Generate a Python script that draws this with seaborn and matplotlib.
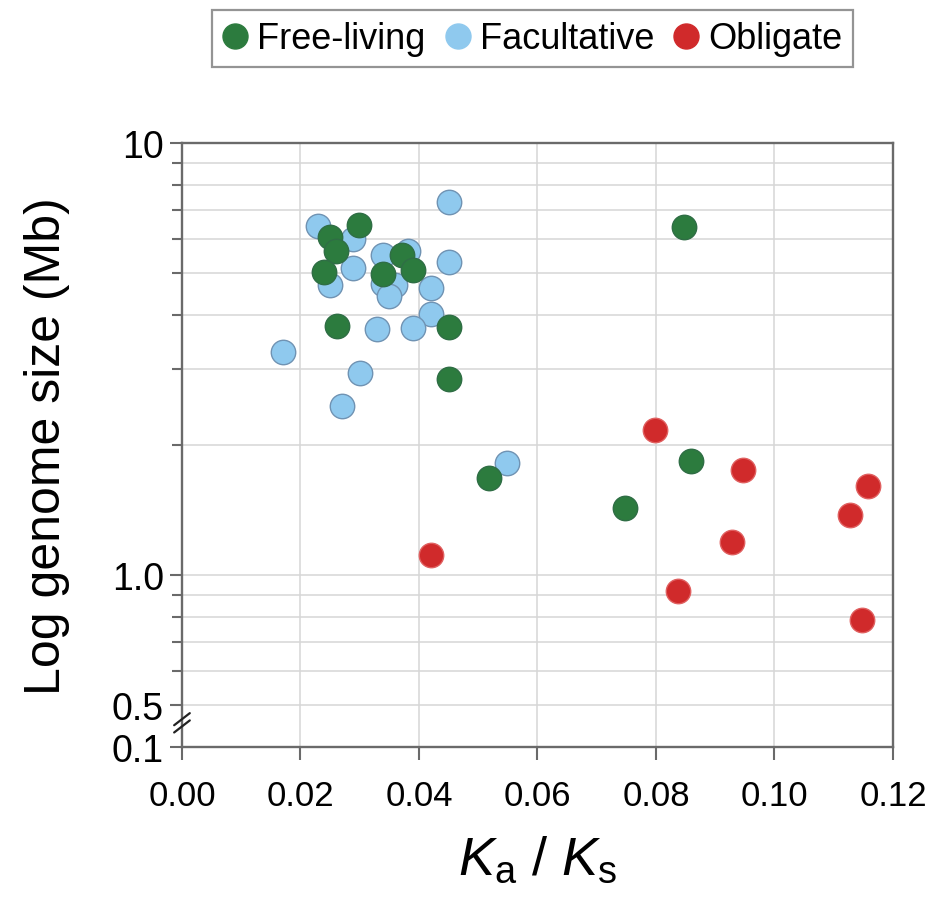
import numpy as np
import pandas as pd
import seaborn as sns
import matplotlib.pyplot as plt
from matplotlib.lines import Line2D
from matplotlib.ticker import FixedLocator, FixedFormatter, NullFormatter

# Ka/Ks vs genome size
free_kaks = [0.0250, 0.0260, 0.0299, 0.0240, 0.0340, 0.0371, 0.0390, 0.0261,
             0.0450, 0.0450, 0.0848, 0.0519, 0.0748, 0.0859]
free_size = [6.05, 5.63, 6.46, 5.04, 4.98, 5.50, 5.09, 3.78,
             3.76, 2.85, 6.38, 1.68, 1.43, 1.84]

fac_kaks = [0.0230, 0.0288, 0.0289, 0.0250, 0.0339, 0.0382, 0.0339, 0.0360,
            0.0350, 0.0420, 0.0420, 0.0329, 0.0390, 0.0450, 0.0450, 0.0171,
            0.0300, 0.0270, 0.0549]
fac_size = [6.44, 6.00, 5.14, 4.70, 5.50, 5.63, 4.71, 4.70,
            4.43, 4.61, 4.03, 3.72, 3.73, 7.29, 5.31, 3.28,
            2.94, 2.46, 1.82]

obl_kaks = [0.0420, 0.0799, 0.0947, 0.1158, 0.1127, 0.0928, 0.0838, 0.1148]
obl_size = [1.11, 2.17, 1.75, 1.61, 1.38, 1.19, 0.918, 0.785]

groups = ['Free-living', 'Facultative', 'Obligate']
colors = {'Free-living': '#2c7b3e', 'Facultative': '#8fc9ee', 'Obligate': '#d02a2b'}
edges = {'Free-living': '#2f6e45', 'Facultative': '#7093b3', 'Obligate': '#e06060'}

xticks = [0.00, 0.02, 0.04, 0.06, 0.08, 0.10, 0.12]
xticklabels = ['0.00', '0.02', '0.04', '0.06', '0.08', '0.10', '0.12']
# bottom of axis (0.4) is labelled 0.1 because of the axis break
yticks = [0.4, 0.5, 1.0, 10.0]
yticklabels = ['0.1', '0.5', '1.0', '10']
yminor = [0.6, 0.7, 0.8, 0.9, 2, 3, 4, 5, 6, 7, 8, 9]

df = pd.concat([
    pd.DataFrame({'kaks': free_kaks, 'size': free_size, 'life': 'Free-living'}),
    pd.DataFrame({'kaks': fac_kaks, 'size': fac_size, 'life': 'Facultative'}),
    pd.DataFrame({'kaks': obl_kaks, 'size': obl_size, 'life': 'Obligate'}),
])

sns.set_style('white')
plt.rcParams['font.family'] = ['Liberation Sans', 'DejaVu Sans']
plt.rcParams['text.color'] = 'black'
plt.rcParams['axes.labelcolor'] = 'black'
plt.rcParams['mathtext.fontset'] = 'custom'
plt.rcParams['mathtext.rm'] = 'Liberation Sans'
plt.rcParams['mathtext.it'] = 'Liberation Sans:italic'

fig = plt.figure(figsize=(9.38, 9.04), dpi=100)
ax = fig.add_axes([0.194, 0.1726, 0.758, 0.668])

# blue drawn first, greens sit on top of them
for g in ['Facultative', 'Free-living', 'Obligate']:
    sub = df[df['life'] == g]
    sns.scatterplot(data=sub, x='kaks', y='size', ax=ax, s=310,
                    color=colors[g], edgecolor=edges[g], linewidth=1.0,
                    zorder=3, legend=False)

ax.set_yscale('log')
ax.set_xlim(0, 0.12)
ax.set_ylim(0.4, 10)

ax.xaxis.set_major_locator(FixedLocator(xticks))
ax.xaxis.set_major_formatter(FixedFormatter(xticklabels))
ax.yaxis.set_major_locator(FixedLocator(yticks))
ax.yaxis.set_major_formatter(FixedFormatter(yticklabels))
ax.yaxis.set_minor_locator(FixedLocator(yminor))
ax.yaxis.set_minor_formatter(NullFormatter())

ax.grid(True, which='both', color='#d6d6d6', linewidth=1.1, zorder=0)
ax.set_axisbelow(True)

for sp in ax.spines.values():
    sp.set_visible(True)
    sp.set_color('#6a6a6a')
    sp.set_linewidth(1.7)

ax.tick_params(axis='x', which='major', direction='out', length=9, width=1.5,
               color='#6a6a6a', labelcolor='black', labelsize=25, pad=14, bottom=True)
ax.tick_params(axis='y', which='major', direction='out', length=9, width=1.5,
               color='#6a6a6a', labelcolor='black', labelsize=27, pad=4, left=True)
ax.tick_params(axis='y', which='minor', direction='out', length=7, width=1.5,
               color='#6a6a6a', left=True)

ax.set_xlabel(r'$\mathit{K}_{\mathrm{a}}\ /\ \mathit{K}_{\mathrm{s}}$', fontsize=39, labelpad=16)
ax.set_ylabel('Log genome size (Mb)', fontsize=36, labelpad=30)

# axis break marks between 0.5 and 0.1
for dy in (0.0, 0.012):
    ax.plot([-0.011, 0.011], [0.024 + dy, 0.044 + dy], transform=ax.transAxes,
            color='#222222', linewidth=1.6, clip_on=False, zorder=5)

handles = [Line2D([0], [0], marker='o', linestyle='', markersize=18,
                  markerfacecolor=colors[g], markeredgecolor=colors[g]) for g in groups]
leg = fig.legend(handles, groups, loc='center', bbox_to_anchor=(0.5677, 0.956),
                 ncol=3, fontsize=26, frameon=True, fancybox=False,
                 handlelength=0.7, handletextpad=0.25, columnspacing=0.55,
                 borderpad=0.3, borderaxespad=0)
leg.get_frame().set_edgecolor('#7a7a7a')
leg.get_frame().set_linewidth(1.6)

fig.savefig('out.png', dpi=100)
